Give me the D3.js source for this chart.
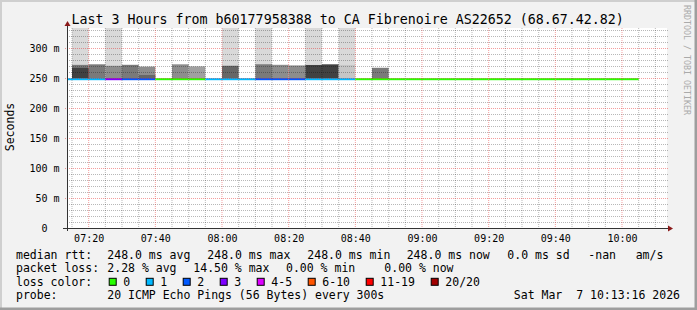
<!DOCTYPE html>
<html>
<head>
<meta charset="utf-8">
<script src="https://cdn.jsdelivr.net/npm/d3@7"></script>
<style>
html, body { margin: 0; padding: 0; background: #f2f2f2; }
svg { display: block; font-family: "DejaVu Sans Mono", monospace; }
text { white-space: pre; }
</style>
</head>
<body>
<div id="chart"></div>
<script>
// 5 minute bins (start time of each step)
const binStarts = ["07:10", "07:15", "07:20", "07:25", "07:30", "07:35", "07:40", "07:45", "07:50", "07:55",
    "08:00", "08:05", "08:10", "08:15", "08:20", "08:25", "08:30", "08:35", "08:40", "08:45",
    "08:50", "08:55", "09:00", "09:05", "09:10", "09:15", "09:20", "09:25", "09:30", "09:35",
    "09:40", "09:45", "09:50", "09:55", "10:00"];
const medianRtt = [248, 248, 248, 248, 248, 248, 248, 248, 248, 248,
    248, 248, 248, 248, 248, 248, 248, 248, 248, 248,
    248, 248, 248, 248, 248, 248, 248, 248, 248, 248,
    248, 248, 248, 248, 248];
const lossCount = [1, 1, 1, 3, 2, 2, 0, 0, 0, 1,
    1, 1, 2, 2, 2, 1, 1, 1, 0, 0,
    0, 0, 0, 0, 0, 0, 0, 0, 0, 0,
    0, 0, 0, 0, 0];
// smoke: upper edge of the main band (ms) and how many pings stack in it
const smokeTop = [null, 272, 272.8, 270.5, 272, 269, null, 272.8, 269.4, null,
    270.5, null, 273, 272, 271, 271.7, 272.8, 271.7, null, 267,
    null, null, null, null, null, null, null, null, null, null,
    null, null, null, null, null];
const smokeLayers = [0, 6, 6, 5, 6, 5, 0, 5, 4, 0,
    7, 0, 6, 5, 5, 9, 9, 2, 0, 6,
    0, 0, 0, 0, 0, 0, 0, 0, 0, 0,
    0, 0, 0, 0, 0];
const innerTop = [null, 267, null, null, null, 255, null, null, null, null,
    null, null, null, null, null, null, null, null, null, null,
    null, null, null, null, null, null, null, null, null, null,
    null, null, null, null, null];
const innerLayers = [0, 9, 0, 0, 0, 7, 0, 0, 0, 0,
    0, 0, 0, 0, 0, 0, 0, 0, 0, 0,
    0, 0, 0, 0, 0, 0, 0, 0, 0, 0,
    0, 0, 0, 0, 0];
// slowest ping of the step (off the chart where > 333 ms)
const maxPing = [null, 420, null, 420, null, null, null, null, null, null,
    420, null, 420, null, null, 420, null, 420, null, null,
    null, null, null, null, null, null, null, null, null, null,
    null, null, null, null, null];

const yTicks = [0, 50, 100, 150, 200, 250, 300];
const lossLabels = ["0", "1", "2", "3", "4-5", "6-10", "11-19", "20/20"];
const lossColors = ["#26ff00", "#00b8ff", "#0059ff", "#7e00ff", "#dd00ff", "#ff5500", "#ff0000", "#a10000"];
const lossBreaks = [1, 2, 3, 4, 6, 11, 20];

const title = "Last 3 Hours from b60177958388 to CA Fibrenoire AS22652 (68.67.42.82)";
const rttStats = ["248.0 ms avg", "248.0 ms max", "248.0 ms min", "248.0 ms now", "0.0 ms sd", "-nan", "am/s"];
const lossStats = ["2.28 % avg", "14.50 % max", "0.00 % min", "0.00 % now"];
const probeText = "20 ICMP Echo Pings (56 Bytes) every 300s";
const stamp = "Sat Mar  7 10:13:16 2026";
const viewStart = "07:13:30", viewEnd = "10:13:30";

const W = 697, H = 310;
const plot = { left: 67, right: 667, top: 28, bottom: 228 };
const step = 5; // minutes

const parseT = d3.timeParse("%Y-%m-%d %H:%M:%S");
const at = s => parseT("2026-03-07 " + (s.length === 5 ? s + ":00" : s));

const x = d3.scaleTime().domain([at(viewStart), at(viewEnd)]).range([plot.left, plot.right]);
const y = d3.scaleLinear().domain([0, 1000 / 3]).range([plot.bottom, plot.top]);
const gray = d3.scaleLinear().domain([1, 9]).range(["#d9d9d9", "#414141"]);
const lossColor = d3.scaleThreshold().domain(lossBreaks).range(lossColors);

const bins = binStarts.map((s, i) => ({
    t0: at(s), t1: d3.timeMinute.offset(at(s), step),
    median: medianRtt[i], loss: lossCount[i],
    top: smokeTop[i], n: smokeLayers[i],
    inTop: innerTop[i], inN: innerLayers[i], max: maxPing[i]
}));

const svg = d3.select("#chart").append("svg")
    .attr("width", W).attr("height", H);

svg.append("rect").attr("width", W).attr("height", H).attr("fill", "#f2f2f2");
// frame shading
svg.append("path").attr("d", `M0,${H} V0 H${W}`).attr("stroke", "#cfcfcf").attr("stroke-width", 4).attr("fill", "none");
svg.append("path").attr("d", `M0,${H} H${W} V0`).attr("stroke", "#9e9e9e").attr("stroke-width", 5).attr("fill", "none");

svg.append("defs").append("clipPath").attr("id", "clip")
  .append("rect")
    .attr("x", plot.left).attr("y", plot.top)
    .attr("width", plot.right - plot.left).attr("height", plot.bottom - plot.top);

svg.append("rect")
    .attr("x", plot.left).attr("y", plot.top)
    .attr("width", plot.right - plot.left).attr("height", plot.bottom - plot.top)
    .attr("fill", "#ffffff");

const g = svg.append("g").attr("clip-path", "url(#clip)");

// smoke
const bx = d => x(d.t0), bw = d => x(d.t1) - x(d.t0);
g.selectAll(".max").data(bins.filter(d => d.max != null)).enter().append("rect")
    .attr("x", bx).attr("width", bw)
    .attr("y", d => y(d.max))
    .attr("height", d => y(d.top != null ? d.top : d.median) - y(d.max))
    .attr("fill", gray(1));
g.selectAll(".smoke").data(bins.filter(d => d.top != null)).enter().append("rect")
    .attr("x", bx).attr("width", bw)
    .attr("y", d => y(d.top))
    .attr("height", d => y(d.median) - y(d.top))
    .attr("fill", d => gray(d.n));
g.selectAll(".inner").data(bins.filter(d => d.inTop != null)).enter().append("rect")
    .attr("x", bx).attr("width", bw)
    .attr("y", d => y(d.inTop))
    .attr("height", d => y(d.median) - y(d.inTop))
    .attr("fill", d => gray(d.inN));

// grid
const minorY = d3.range(10, 334, 10).filter(v => v % 50 !== 0);
const majorY = yTicks.filter(v => v > 0);
const minorX = d3.timeMinute.every(5).range(x.domain()[0], x.domain()[1]).filter(t => t.getMinutes() % 20 !== 0);
const majorX = d3.timeMinute.every(20).range(x.domain()[0], x.domain()[1]);

const minorCol = "rgba(0,0,0,0.28)", majorCol = "rgba(230,40,40,0.45)";
const grid = svg.append("g").attr("stroke-dasharray", "1,1");
grid.selectAll(".gy").data(minorY).enter().append("line")
    .attr("x1", plot.left).attr("x2", plot.right + 1)
    .attr("y1", d => y(d) + 0.5).attr("y2", d => y(d) + 0.5)
    .attr("stroke", minorCol);
grid.selectAll(".gx").data(minorX).enter().append("line")
    .attr("x1", d => x(d)).attr("x2", d => x(d))
    .attr("y1", plot.top).attr("y2", plot.bottom)
    .attr("stroke", minorCol);
grid.selectAll(".my").data(majorY).enter().append("line")
    .attr("x1", plot.left - 2).attr("x2", plot.right + 1)
    .attr("y1", d => y(d) + 0.5).attr("y2", d => y(d) + 0.5)
    .attr("stroke", majorCol);
grid.selectAll(".mx").data(majorX).enter().append("line")
    .attr("x1", d => x(d)).attr("x2", d => x(d))
    .attr("y1", plot.top).attr("y2", plot.bottom + 2)
    .attr("stroke", majorCol);

// median line coloured by loss
g.selectAll(".med").data(bins).enter().append("line")
    .attr("x1", bx).attr("x2", d => x(d.t1))
    .attr("y1", d => y(d.median)).attr("y2", d => y(d.median))
    .attr("stroke", d => lossColor(d.loss)).attr("stroke-width", 2);

// axes
svg.append("line").attr("x1", plot.left - 4).attr("x2", plot.right + 2)
    .attr("y1", plot.bottom + 0.5).attr("y2", plot.bottom + 0.5).attr("stroke", "#333");
svg.append("line").attr("x1", plot.left + 0.5).attr("x2", plot.left + 0.5)
    .attr("y1", plot.bottom + 3).attr("y2", plot.top - 4).attr("stroke", "#333");
svg.append("path").attr("d", `M${plot.right + 1},${plot.bottom - 2.5} L${plot.right + 6},${plot.bottom + 0.5} L${plot.right + 1},${plot.bottom + 3.5} Z`)
    .attr("fill", "#8b1a1a");
svg.append("path").attr("d", `M${plot.left - 2.5},${plot.top - 2} L${plot.left + 0.5},${plot.top - 7} L${plot.left + 3.5},${plot.top - 2} Z`)
    .attr("fill", "#8b1a1a");

// y labels
svg.append("g").selectAll("text").data(yTicks).enter().append("text")
    .attr("x", d => d === 0 ? 47.5 : 59.5)
    .attr("y", d => y(d))
    .attr("dy", "0.36em")
    .attr("text-anchor", "end")
    .attr("font-size", 10)
    .text(d => d === 0 ? "0" : `${d} m`);

// x labels
svg.append("g").selectAll("text").data(majorX).enter().append("text")
    .attr("x", d => x(d) + 0.5)
    .attr("y", 241.5)
    .attr("text-anchor", "middle")
    .attr("font-size", 10)
    .text(d3.timeFormat("%H:%M"));

svg.append("text")
    .attr("transform", "translate(14,127) rotate(-90)")
    .attr("text-anchor", "middle")
    .attr("font-size", 11.5)
    .text("Seconds");

svg.append("text").attr("x", 71.5).attr("y", 23.5).attr("font-size", 13.3).text(title);

svg.append("text")
    .attr("transform", "translate(684,5) rotate(90)")
    .attr("font-size", 8.3)
    .attr("fill", "#aaaaaa")
    .text("RRDTOOL / TOBI OETIKER");

// legend
const leg = svg.append("g").attr("font-size", 11.5);
const rowY = [258.8, 272.3, 285.8, 299.3];
const rttX = [107.3, 207.3, 307.3, 406.7, 507.3, 588.3, 635.7];
const lossX = [107.3, 193.3, 286, 384.3];

leg.append("text").attr("x", 16).attr("y", rowY[0]).text("median rtt:");
leg.selectAll(".rtt").data(rttStats).enter().append("text")
    .attr("x", (d, i) => rttX[i]).attr("y", rowY[0]).text(d => d);

leg.append("text").attr("x", 16).attr("y", rowY[1]).text("packet loss:");
leg.selectAll(".loss").data(lossStats).enter().append("text")
    .attr("x", (d, i) => lossX[i]).attr("y", rowY[1]).text(d => d);

leg.append("text").attr("x", 16).attr("y", rowY[2]).text("loss color:");
let lx = 108.7;
const swatchX = lossLabels.map(l => { const p = lx; lx += 37 + (l.length - 1) * 7; return p; });
const item = leg.selectAll(".lc").data(lossLabels).enter().append("g")
    .attr("transform", (d, i) => `translate(${swatchX[i]},${rowY[2]})`);
item.append("rect")
    .attr("x", 0.5).attr("y", -7.5).attr("width", 7).attr("height", 7)
    .attr("fill", (d, i) => lossColors[i]).attr("stroke", "#000");
item.append("text").attr("x", 14.6).text(d => d);

leg.append("text").attr("x", 16).attr("y", rowY[3]).text("probe:");
leg.append("text").attr("x", 107.3).attr("y", rowY[3]).text(probeText);
leg.append("text").attr("x", 680).attr("y", rowY[3]).attr("text-anchor", "end").text(stamp);
</script>
</body>
</html>
